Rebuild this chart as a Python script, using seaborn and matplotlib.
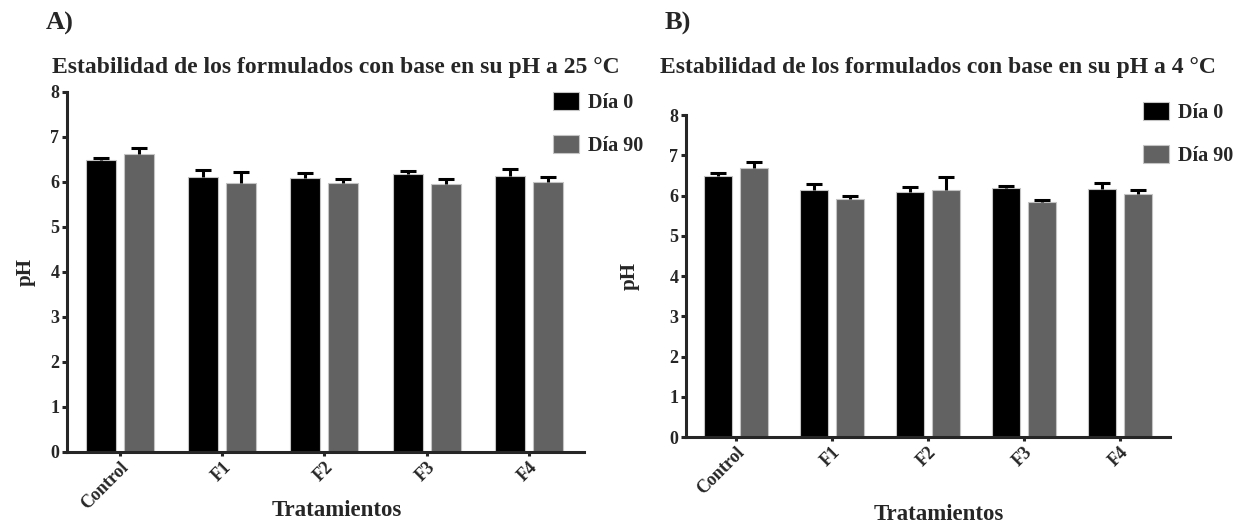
import pandas as pd
import matplotlib
matplotlib.use("Agg")
import matplotlib.pyplot as plt
import seaborn as sns

# datos
tratamientos = ['Control', 'F1', 'F2', 'F3', 'F4']
dias = ['Día 0', 'Día 90']

ph_25_dia0 = [6.49, 6.11, 6.09, 6.18, 6.13]
err_25_dia0 = [0.05, 0.15, 0.11, 0.06, 0.15]
ph_25_dia90 = [6.62, 5.98, 5.98, 5.96, 6.00]
err_25_dia90 = [0.14, 0.24, 0.09, 0.11, 0.11]

ph_4_dia0 = [6.49, 6.13, 6.09, 6.18, 6.15]
err_4_dia0 = [0.06, 0.15, 0.11, 0.06, 0.16]
ph_4_dia90 = [6.68, 5.92, 6.13, 5.83, 6.04]
err_4_dia90 = [0.15, 0.07, 0.32, 0.07, 0.09]

colores = ['#000000', '#626262']

sns.set_style('ticks')
plt.rcParams['font.family'] = ['Liberation Serif', 'DejaVu Serif']
plt.rcParams['font.weight'] = 'bold'
plt.rcParams['axes.labelweight'] = 'bold'


def armar_df(dia0, dia90):
    return pd.DataFrame({
        'Tratamiento': tratamientos * 2,
        'Día': [dias[0]] * len(tratamientos) + [dias[1]] * len(tratamientos),
        'pH': list(dia0) + list(dia90),
    })


def panel(ax, df, errores, titulo, letra, xlim, ylab_x, xlab_y, leg_xy, titulo_y):
    sns.barplot(data=df, x='Tratamiento', y='pH', hue='Día', palette=colores,
                width=0.744, gap=0.21, errorbar=None, edgecolor='#c4c4c4',
                linewidth=0.8, saturation=1, ax=ax)
    # barras de error solo hacia arriba
    for cont, err in zip(ax.containers, errores):
        xs = [p.get_x() + p.get_width() / 2 for p in cont.patches]
        ys = [p.get_height() for p in cont.patches]
        _, caps, _ = ax.errorbar(xs, ys, yerr=[[0] * len(err), err], fmt='none',
                                 ecolor='black', elinewidth=2.2, capsize=6,
                                 capthick=2.2, zorder=5)
        caps[0].set_visible(False)

    ax.set_ylim(0, 8)
    ax.set_yticks(range(0, 9))
    ax.set_xlim(*xlim)
    sns.despine(ax=ax)
    for s in ['left', 'bottom']:
        ax.spines[s].set_linewidth(2.2)
    ax.tick_params(axis='y', length=3.5, width=2.2, labelsize=13, pad=2)
    ax.tick_params(axis='x', length=3, width=2.2, labelsize=13, pad=2)
    for lbl in ax.get_xticklabels():
        lbl.set_rotation(45)
        lbl.set_ha('right')
        lbl.set_va('top')
        lbl.set_rotation_mode('anchor')
        lbl.set_fontweight('bold')
    for lbl in ax.get_yticklabels():
        lbl.set_fontweight('bold')

    ax.set_ylabel('pH', fontsize=15, fontweight='bold')
    ax.yaxis.set_label_coords(ylab_x, 0.5)
    ax.set_xlabel('Tratamientos', fontsize=16.5, fontweight='bold')
    ax.xaxis.set_label_coords(0.522, xlab_y)

    old = ax.get_legend()
    handles = old.legend_handles
    labels = [t.get_text() for t in old.get_texts()]
    ax.legend(handles, labels, loc='upper left', bbox_to_anchor=leg_xy,
              frameon=False, borderpad=0, borderaxespad=0,
              handlelength=1.3, handleheight=1.0, handletextpad=0.45,
              labelspacing=1.1, prop={'family': 'Liberation Serif',
                                      'weight': 'bold', 'size': 14.5})

    bb = ax.get_position()
    fig.text((bb.x0 + bb.x1) / 2 + 0.008, titulo_y, titulo, ha='center',
             va='center', fontsize=17, fontweight='bold')
    fig.text(bb.x0 - 0.017, 0.955, letra, ha='left', va='center',
             fontsize=19, fontweight='bold')


fig = plt.figure(figsize=(12.36, 5.23), dpi=100)
ax1 = fig.add_axes([0.0542, 0.1358, 0.4183, 0.6883])
ax2 = fig.add_axes([0.555, 0.1644, 0.3916, 0.6157])

panel(ax1, armar_df(ph_25_dia0, ph_25_dia90), [err_25_dia0, err_25_dia90],
      'Estabilidad de los formulados con base en su pH a 25 °C', 'A)',
      (-0.52, 4.54), -0.06, -0.133, (0.94, 1.0), 0.87)
panel(ax2, armar_df(ph_4_dia0, ph_4_dia90), [err_4_dia0, err_4_dia90],
      'Estabilidad de los formulados con base en su pH a 4 °C', 'B)',
      (-0.52, 4.52), -0.095, -0.208, (0.944, 1.04), 0.87)

fig.savefig('out.png', dpi=100)
